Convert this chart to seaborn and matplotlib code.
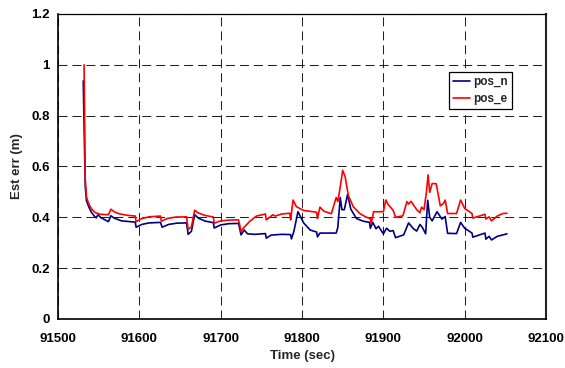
import matplotlib
matplotlib.use("Agg")
import matplotlib.pyplot as plt
import seaborn as sns
import pandas as pd

# Estimated position error (north / east) over time
time_n = [91531, 91533.5, 91535, 91538, 91541, 91545, 91547, 91549, 91553, 91562,
          91565, 91569, 91578, 91595, 91596, 91603, 91612, 91626, 91628, 91636,
          91646, 91658, 91660, 91664, 91668, 91673, 91681, 91691, 91692, 91700,
          91710, 91722, 91725, 91729, 91733, 91742, 91755, 91756, 91762, 91775,
          91786, 91787, 91790, 91795, 91802, 91810, 91818, 91819, 91822, 91842,
          91844, 91847, 91849, 91852, 91856, 91860, 91867, 91875, 91883, 91884,
          91887, 91891, 91894, 91900, 91904, 91908, 91912, 91915, 91925, 91931,
          91937, 91941, 91945, 91948, 91952, 91954.5, 91957, 91960, 91966, 91972,
          91976, 91979, 91990, 91995, 92000, 92009, 92010, 92025, 92026, 92030,
          92033, 92040, 92052]
pos_n = [0.937, 0.52, 0.465, 0.44, 0.42, 0.403, 0.398, 0.41, 0.398, 0.383,
         0.406, 0.397, 0.386, 0.381, 0.361, 0.372, 0.378, 0.38, 0.361, 0.372,
         0.377, 0.378, 0.333, 0.345, 0.41, 0.396, 0.385, 0.379, 0.358, 0.37,
         0.375, 0.376, 0.331, 0.35, 0.335, 0.333, 0.336, 0.318, 0.33, 0.333,
         0.332, 0.315, 0.345, 0.422, 0.378, 0.35, 0.342, 0.323, 0.338, 0.338,
         0.36, 0.478, 0.43, 0.43, 0.49, 0.432, 0.395, 0.385, 0.38, 0.357,
         0.38, 0.355, 0.365, 0.335, 0.357, 0.345, 0.348, 0.32, 0.331, 0.378,
         0.355, 0.346, 0.372, 0.36, 0.335, 0.467, 0.4, 0.386, 0.422, 0.393,
         0.403, 0.337, 0.336, 0.38, 0.357, 0.338, 0.322, 0.338, 0.314, 0.325,
         0.311, 0.325, 0.335]

time_e = [91532, 91533.5, 91535, 91537, 91539, 91542, 91546, 91552, 91562, 91565,
          91569, 91575, 91585, 91595, 91596, 91603, 91612, 91626, 91627, 91635,
          91645, 91658, 91660, 91664, 91668, 91672, 91680, 91691, 91692, 91700,
          91710, 91722, 91725, 91730, 91736, 91744, 91755, 91756, 91761, 91764,
          91767, 91775, 91785, 91786, 91789, 91793, 91802, 91818, 91819, 91822,
          91827, 91836, 91842, 91844, 91847, 91850, 91853, 91857, 91863, 91871,
          91878, 91884, 91885, 91888, 91900, 91903, 91906, 91912, 91915, 91924,
          91929, 91931, 91934, 91941, 91945, 91947, 91950, 91953, 91955, 91957,
          91960, 91965, 91970, 91974, 91976, 91979, 91990, 91995, 92000, 92009,
          92010, 92018, 92025, 92026, 92030, 92033, 92040, 92047, 92052]
pos_e = [1.0, 0.55, 0.48, 0.46, 0.445, 0.43, 0.418, 0.412, 0.41, 0.432,
         0.422, 0.414, 0.408, 0.405, 0.383, 0.395, 0.402, 0.405, 0.385, 0.396,
         0.401, 0.402, 0.353, 0.362, 0.428, 0.418, 0.408, 0.401, 0.377, 0.386,
         0.389, 0.39, 0.345, 0.365, 0.385, 0.405, 0.413, 0.39, 0.402, 0.41,
         0.405, 0.413, 0.416, 0.39, 0.468, 0.442, 0.427, 0.42, 0.395, 0.44,
         0.424, 0.414, 0.478, 0.462, 0.52, 0.585, 0.56, 0.485, 0.442, 0.415,
         0.402, 0.395, 0.375, 0.422, 0.422, 0.468, 0.45, 0.428, 0.4, 0.406,
         0.462, 0.452, 0.463, 0.43, 0.418, 0.44, 0.43, 0.5, 0.567, 0.498,
         0.533, 0.532, 0.445, 0.455, 0.468, 0.415, 0.415, 0.468, 0.435, 0.415,
         0.397, 0.405, 0.412, 0.393, 0.402, 0.386, 0.405, 0.415, 0.416]

x_ticks = [91500, 91600, 91700, 91800, 91900, 92000, 92100]
y_ticks = [0, 0.2, 0.4, 0.6, 0.8, 1.0, 1.2]
y_tick_labels = ["0", "0.2", "0.4", "0.6", "0.8", "1", "1.2"]

sns.set_style("white")
plt.rcParams["font.family"] = ["Liberation Sans", "DejaVu Sans"]
plt.rcParams["font.weight"] = "bold"

df_n = pd.DataFrame({"time": time_n, "err": pos_n})
df_e = pd.DataFrame({"time": time_e, "err": pos_e})

fig = plt.figure(figsize=(5.65, 3.68), dpi=100)
ax = fig.add_axes([0.1027, 0.1332, 0.8637, 0.8288])

sns.lineplot(data=df_n, x="time", y="err", color="#000080", lw=1.2,
             sort=False, estimator=None, label="pos_n", ax=ax)
sns.lineplot(data=df_e, x="time", y="err", color="#ff0000", lw=1.2,
             sort=False, estimator=None, label="pos_e", ax=ax)

ax.set_xlim(91500, 92100)
ax.set_ylim(0, 1.2)
ax.set_xticks(x_ticks)
ax.set_xticklabels([str(t) for t in x_ticks])
ax.set_yticks(y_ticks)
ax.set_yticklabels(y_tick_labels)
ax.tick_params(axis="both", direction="out", length=4, width=0.9,
               color="black", labelsize=9.5, labelcolor="black")
ax.tick_params(axis="x", pad=6)
ax.tick_params(axis="y", pad=2)
for lab in ax.get_xticklabels() + ax.get_yticklabels():
    lab.set_fontweight("bold")

ax.grid(True, color="#222222", linestyle=(0, (8.6, 4.8)), linewidth=0.75)
ax.set_axisbelow(True)

for side in ["left", "bottom"]:
    ax.spines[side].set_color("black")
    ax.spines[side].set_linewidth(1.2)
ax.spines["top"].set_color("black")
ax.spines["top"].set_linewidth(0.9)
ax.spines["right"].set_color("#222222")
ax.spines["right"].set_linewidth(1.5)

ax.set_xlabel("Time (sec)", fontsize=9.5, fontweight="bold", labelpad=4)
ax.set_ylabel("Est err (m)", fontsize=9.5, fontweight="bold", labelpad=6)

leg = ax.legend(loc="upper left", bbox_to_anchor=(0.801, 0.81), borderaxespad=0,
                frameon=True, fancybox=False, shadow=False, framealpha=1,
                edgecolor="black", fontsize=8.5, handlelength=1.4,
                handletextpad=0.3, borderpad=0.35, labelspacing=0.4)
leg.get_frame().set_linewidth(0.9)
for t in leg.get_texts():
    t.set_fontweight("bold")

fig.savefig("out.png", dpi=100)
